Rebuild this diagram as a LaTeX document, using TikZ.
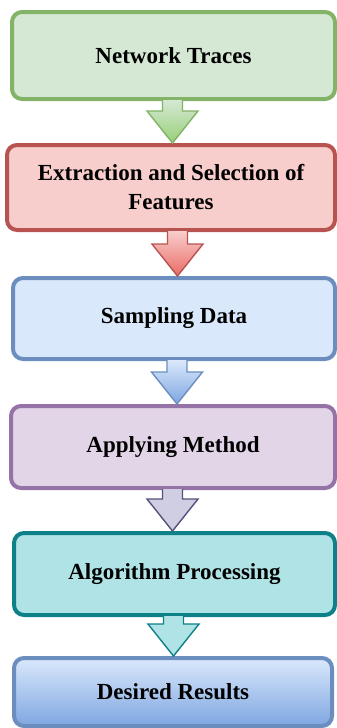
\documentclass[tikz,border=0pt]{standalone}
\usepackage{fontspec}
\setmainfont{Liberation Serif}
\usetikzlibrary{calc}

% stage colours (fill / border)
\definecolor{greenfill}{HTML}{D5E8D4}\definecolor{greenline}{HTML}{82B366}
\definecolor{redfill}{HTML}{F8CECC}\definecolor{redline}{HTML}{B85450}
\definecolor{bluefill}{HTML}{DAE8FC}\definecolor{blueline}{HTML}{6C8EBF}
\definecolor{purplefill}{HTML}{E1D5E7}\definecolor{purpleline}{HTML}{9673A6}
\definecolor{tealfill}{HTML}{B0E3E6}\definecolor{tealline}{HTML}{0E8088}
\definecolor{bluedark}{HTML}{7EA6E0}
\definecolor{greendark}{HTML}{97D077}
\definecolor{reddark}{HTML}{EA6B66}
\definecolor{slatefill}{HTML}{D0CEE2}\definecolor{slateline}{HTML}{56517E}

\tikzset{
  stage/.style={draw, line width=4pt, rounded corners=10pt, inner sep=0pt,
    align=center, font=\fontsize{23}{29}\selectfont\bfseries},
  flow/.style={line width=1.4pt, line join=miter},
}

% block arrow from the bottom of #2 to the top of #3, centred at x=#4
\newcommand\flowarrow[4]{%
  \draw[flow,#1] let \p1=(#2.south), \p2=(#3.north) in
    ({#4pt-10pt},{\y1+1pt}) -- ({#4pt-10pt},{\y2+32pt}) -- ({#4pt-25.5pt},{\y2+32pt})
    -- ({#4pt},{\y2}) -- ({#4pt+25.5pt},{\y2+32pt}) -- ({#4pt+10pt},{\y2+32pt})
    -- ({#4pt+10pt},{\y1+1pt});
}

\begin{document}
\begin{tikzpicture}[x=1pt,y=-1pt]
  \useasboundingbox (0,0) rectangle (337,728);

  \node[stage, fill=greenfill, draw=greenline, minimum width=323pt, minimum height=87pt]
    (traces) at (173.5,55.5) {Network Traces};
  \node[stage, fill=redfill, draw=redline, minimum width=328pt, minimum height=85pt]
    (features) at (171,187.5) {Extraction and Selection of\\Features};
  \node[stage, fill=bluefill, draw=blueline, minimum width=322pt, minimum height=81pt]
    (sampling) at (174,318.5) {Sampling Data};
  \node[stage, fill=purplefill, draw=purpleline, minimum width=324pt, minimum height=82pt]
    (method) at (173,447) {Applying Method};
  \node[stage, fill=tealfill, draw=tealline, minimum width=321pt, minimum height=82pt]
    (algorithm) at (174.5,574) {Algorithm Processing};
  \node[stage, top color=bluefill, bottom color=bluedark, draw=blueline,
    minimum width=318pt, minimum height=68pt]
    (results) at (173,692) {Desired Results};

  \flowarrow{top color=greenfill, bottom color=greendark, draw=greenline}{traces}{features}{172.5}
  \flowarrow{top color=redfill, bottom color=reddark, draw=redline}{features}{sampling}{177.5}
  \flowarrow{top color=bluefill, bottom color=bluedark, draw=blueline}{sampling}{method}{177}
  \flowarrow{fill=slatefill, draw=slateline}{method}{algorithm}{172.5}
  \flowarrow{fill=tealfill, draw=tealline}{algorithm}{results}{173.5}
\end{tikzpicture}
\end{document}
